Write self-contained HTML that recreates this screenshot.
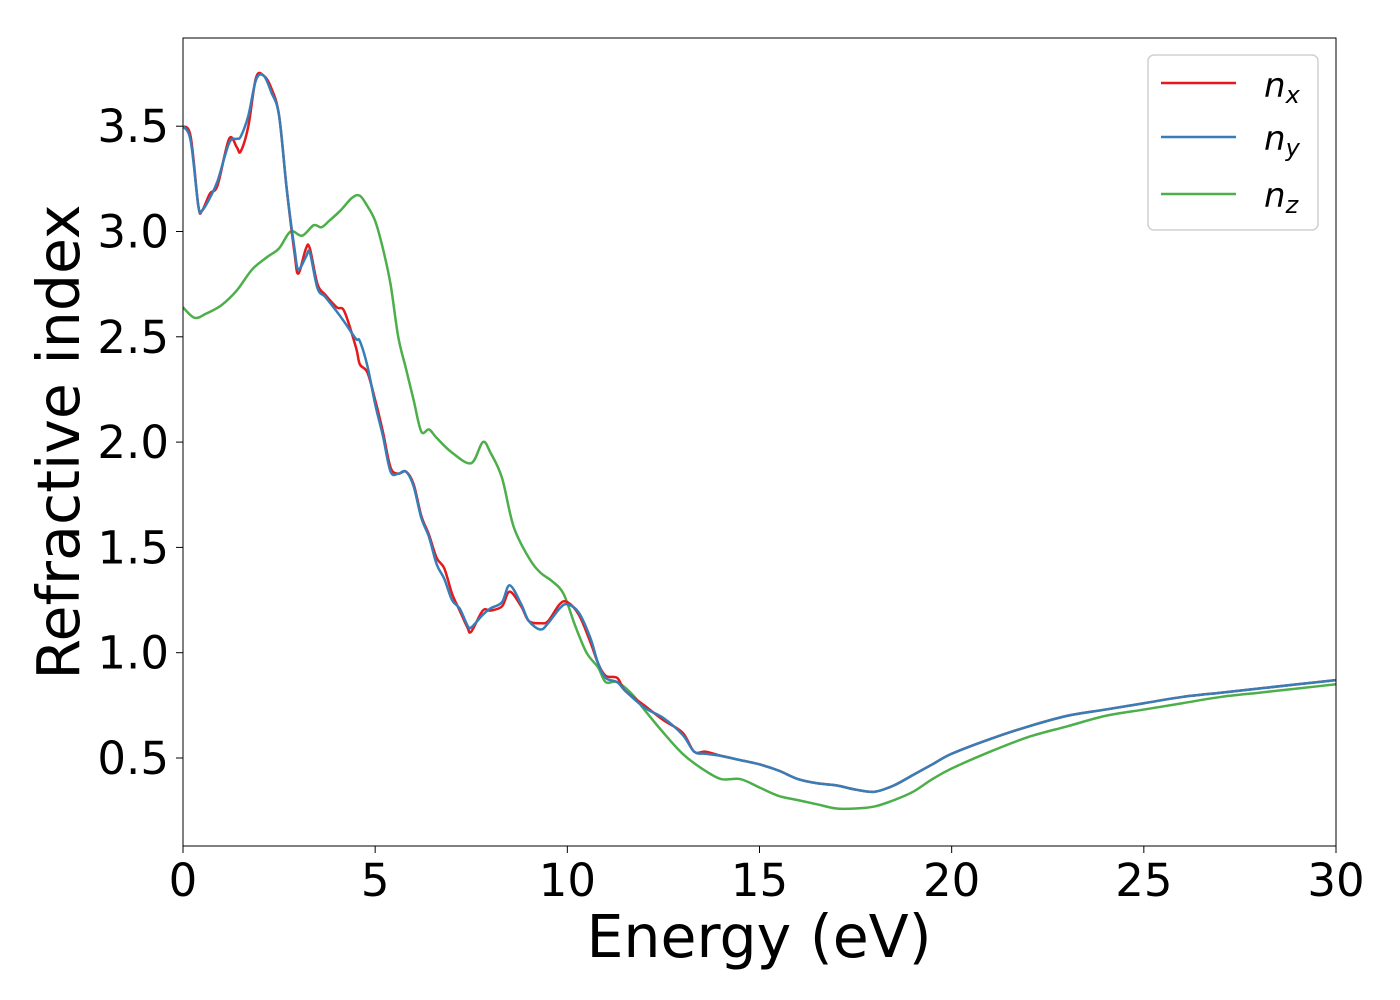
<!DOCTYPE html>
<html><head><meta charset="utf-8"><style>
html,body{margin:0;padding:0;background:#fff;}
svg{display:block;font-family:"DejaVu Sans","Liberation Sans",sans-serif;}
</style></head><body>
<svg id="chart" width="1400" height="1000">
<rect x="0" y="0" width="1400" height="1000" fill="#fff"/>
<g id="plot"></g>
<g id="axes"></g>
<text x="759" y="957" font-size="58.5" text-anchor="middle">Energy (eV)</text>
<text transform="translate(79,442) rotate(-90)" font-size="58.5" text-anchor="middle">Refractive index</text>
<g>
<rect x="1148" y="55" width="170" height="175" rx="6" fill="#fff" stroke="#d0d0d0" stroke-width="1.5"/>
<line x1="1161" y1="83" x2="1236" y2="83" stroke="#e41a1c" stroke-width="2.5"/>
<text x="1264" y="97" font-size="34" font-style="italic">n<tspan font-size="24" dy="6">x</tspan></text>
<line x1="1161" y1="137" x2="1236" y2="137" stroke="#377eb8" stroke-width="2.5"/>
<text x="1264" y="150" font-size="34" font-style="italic">n<tspan font-size="24" dy="6">y</tspan></text>
<line x1="1161" y1="194" x2="1236" y2="194" stroke="#4daf4a" stroke-width="2.5"/>
<text x="1264" y="207" font-size="34" font-style="italic">n<tspan font-size="24" dy="6">z</tspan></text>
</g>
</svg>
<script>
const xTicks=[0,5,10,15,20,25,30];
const yTicks=[0.5,1.0,1.5,2.0,2.5,3.0,3.5];
const energyX=[0,0.2,0.4,0.5,0.7,0.9,1.2,1.4,1.5,1.7,1.9,2.1,2.3,2.5,2.7,2.9,3.0,3.2,3.3,3.5,3.7,4.0,4.2,4.5,4.6,4.8,5.0,5.2,5.4,5.6,5.8,6.0,6.2,6.4,6.6,6.8,7.0,7.2,7.4,7.5,7.8,8.0,8.3,8.5,8.8,9.0,9.3,9.5,9.8,10.0,10.3,10.6,10.8,11.0,11.3,11.5,12.0,12.5,13.0,13.3,13.6,14.0,14.5,15.0,15.5,16,16.5,17,17.5,18.0,18.5,19.0,19.5,20,21,22,23,24,25,26,27,28,29,30];
const nxValues=[3.5,3.45,3.12,3.1,3.18,3.22,3.44,3.40,3.38,3.5,3.73,3.74,3.68,3.55,3.2,2.9,2.8,2.92,2.92,2.75,2.7,2.64,2.62,2.45,2.37,2.33,2.2,2.05,1.88,1.85,1.86,1.8,1.65,1.56,1.45,1.40,1.28,1.2,1.12,1.1,1.2,1.2,1.22,1.29,1.22,1.15,1.14,1.15,1.23,1.24,1.18,1.05,0.95,0.89,0.88,0.82,0.75,0.68,0.62,0.53,0.53,0.51,0.49,0.47,0.44,0.4,0.38,0.37,0.35,0.34,0.37,0.42,0.47,0.52,0.59,0.65,0.70,0.73,0.76,0.79,0.81,0.83,0.85,0.87];
const nyValues=[3.5,3.43,3.12,3.1,3.16,3.24,3.42,3.44,3.45,3.55,3.72,3.74,3.66,3.55,3.2,2.92,2.82,2.88,2.9,2.73,2.69,2.62,2.57,2.49,2.48,2.36,2.18,2.03,1.86,1.85,1.86,1.79,1.64,1.55,1.42,1.35,1.25,1.21,1.13,1.12,1.18,1.21,1.24,1.32,1.23,1.15,1.11,1.14,1.21,1.23,1.19,1.07,0.95,0.88,0.86,0.82,0.74,0.69,0.61,0.53,0.52,0.51,0.49,0.47,0.44,0.4,0.38,0.37,0.35,0.34,0.37,0.42,0.47,0.52,0.59,0.65,0.70,0.73,0.76,0.79,0.81,0.83,0.85,0.87];
const energyZ=[0,0.3,0.6,1.0,1.4,1.8,2.2,2.5,2.8,3.1,3.4,3.6,3.8,4.1,4.4,4.6,4.8,5.0,5.2,5.4,5.6,5.8,6.0,6.2,6.4,6.6,7.0,7.5,7.8,8.0,8.3,8.6,9.0,9.3,9.6,9.9,10.2,10.5,10.8,11.0,11.3,11.7,12.0,12.5,13.0,13.5,14.0,14.5,15.0,15.5,16.0,16.5,17.0,17.5,18.0,18.5,19.0,19.5,20,21,22,23,24,25,26,27,28,29,30];
const nzValues=[2.64,2.59,2.61,2.65,2.72,2.82,2.88,2.92,3.0,2.98,3.03,3.02,3.05,3.1,3.16,3.17,3.12,3.05,2.92,2.75,2.5,2.35,2.2,2.05,2.06,2.02,1.95,1.9,2.0,1.95,1.83,1.6,1.45,1.38,1.34,1.28,1.13,1.0,0.93,0.86,0.86,0.8,0.73,0.62,0.52,0.45,0.4,0.4,0.36,0.32,0.3,0.28,0.26,0.26,0.27,0.3,0.34,0.40,0.45,0.53,0.60,0.65,0.70,0.73,0.76,0.79,0.81,0.83,0.85];

const NS="http://www.w3.org/2000/svg";
const L=183,R=1336,T=38,B=846;
function xs(v){return L+(v-0)/30*(R-L);}
function ys(v){return 758-(v-0.5)*210.6;}
const plot=document.getElementById('plot');
const axes=document.getElementById('axes');
function mk(tag,attrs,parent){const e=document.createElementNS(NS,tag);for(const k in attrs)e.setAttribute(k,attrs[k]);parent.appendChild(e);return e;}
function path(xsArr,ysArr){
  const px=xsArr.map(xs),py=ysArr.map(ys);
  let d='M'+px[0]+','+py[0];
  for(let i=0;i<px.length-1;i++){
    const p0=i>0?i-1:i,p3=i+2<px.length?i+2:i+1;
    const c1x=px[i]+(px[i+1]-px[p0])/6,c1y=py[i]+(py[i+1]-py[p0])/6;
    const c2x=px[i+1]-(px[p3]-px[i])/6,c2y=py[i+1]-(py[p3]-py[i])/6;
    d+=' C'+c1x+','+c1y+' '+c2x+','+c2y+' '+px[i+1]+','+py[i+1];
  }
  return d;}
const cp=mk('clipPath',{id:'clip'},plot);mk('rect',{x:L,y:T,width:R-L,height:B-T},cp);
const g=mk('g',{'clip-path':'url(#clip)'},plot);
const s1=mk('path',{d:path(energyZ,nzValues),fill:'none',stroke:'#4daf4a','stroke-width':2.5},g);


const s2=mk('path',{d:path(energyX,nxValues),fill:'none',stroke:'#e41a1c','stroke-width':2.5},g);


const s3=mk('path',{d:path(energyX,nyValues),fill:'none',stroke:'#377eb8','stroke-width':2.5},g);


const fr=mk('rect',{x:L,y:T,width:R-L,height:B-T,fill:'none',stroke:'#000','stroke-width':1},axes);


xTicks.forEach(v=>{
  const t=mk('line',{x1:xs(v),x2:xs(v),y1:B,y2:B+7,stroke:'#000','stroke-width':1},axes);
  
  
  const lb=mk('text',{x:xs(v),y:B+50,'font-size':45,'text-anchor':'middle'},axes);
  lb.textContent=String(v);
  
  
});
yTicks.forEach(v=>{
  const t=mk('line',{x1:L-7,x2:L,y1:ys(v),y2:ys(v),stroke:'#000','stroke-width':1},axes);
  
  
  const lb=mk('text',{x:L-14,y:ys(v)+16,'font-size':45,'text-anchor':'end'},axes);
  lb.textContent=v.toFixed(1);
  
  
});
</script>
</body></html>
